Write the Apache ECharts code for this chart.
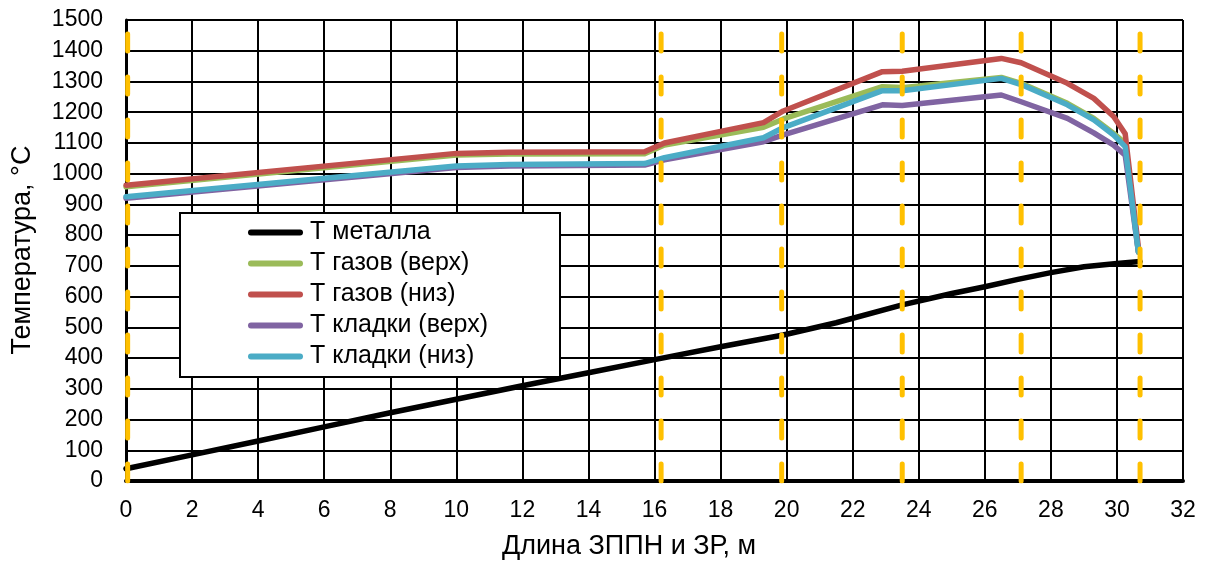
<!DOCTYPE html>
<html>
<head>
<meta charset="utf-8">
<script src="https://cdn.jsdelivr.net/npm/echarts@6/dist/echarts.min.js"></script>
<style>
html,body{margin:0;padding:0;background:#fff;}
#c{width:1208px;height:563px;}
</style>
</head>
<body>
<div id="c"></div>
<script>
// ---- data ----
const seriesNames = ['Т металла', 'Т газов (верх)', 'Т газов (низ)', 'Т кладки (верх)', 'Т кладки (низ)'];
const xMetal = [0, 2, 4, 6, 8, 10, 12, 14, 16, 18, 19.9, 21.5, 23.5, 25, 26, 27, 28, 29, 30, 30.7];
const tMetal = [40, 85, 130, 176, 222, 266, 310, 352, 395, 437, 475, 515, 573, 610, 632, 656, 678, 697, 708, 714];
const xGas = [0, 10, 11.6, 15.7, 16.3, 19.3, 19.9, 22.9, 23.5, 26.5, 27.1, 28.5, 29.3, 29.9, 30.25, 30.65];
const tGasTop = [957, 1061, 1064, 1065, 1093, 1151, 1178, 1283, 1280, 1313, 1294, 1229, 1180, 1131, 1099, 745];
const tGasBottom = [962, 1066, 1070, 1071, 1100, 1166, 1204, 1332, 1333, 1375, 1361, 1294, 1245, 1186, 1130, 760];
const tWallTop = [920, 1020, 1025, 1028, 1045, 1104, 1126, 1224, 1222, 1256, 1234, 1180, 1133, 1093, 1060, 745];
const tWallBottom = [925, 1025, 1030, 1033, 1052, 1117, 1150, 1270, 1270, 1310, 1290, 1224, 1175, 1126, 1088, 745];
const zoneBounds = [0.05, 16.2, 19.85, 23.5, 27.1, 30.7];
const yRange = [0, 1500];
const xRange = [0, 32];
const xTitle = 'Длина ЗППН и ЗР, м';
const yTitle = 'Температура, °C';

const colors = ['#000000', '#9BBB59', '#C0504D', '#8064A2', '#4BACC6'];
const ys = [tMetal, tGasTop, tGasBottom, tWallTop, tWallBottom];
const xs = [xMetal, xGas, xGas, xGas, xGas];

const FONT = '"Liberation Sans", Arial, sans-serif';
const capsule = 'path://M3,0 L53,0 A3,3 0 0 1 53,6 L3,6 A3,3 0 0 1 3,0 Z';
const series = seriesNames.map((n, i) => ({
  name: n,
  type: 'line',
  data: xs[i].map((x, k) => [x, ys[i][k]]),
  showSymbol: false,
  symbol: 'none',
  lineStyle: { color: colors[i], width: 5.5, cap: 'round', join: 'round' },
  itemStyle: { color: colors[i] },
  z: 2 + i * 0.1,
  animation: false
}));
zoneBounds.forEach(b => {
  series.push({
    type: 'line',
    data: [[b, yRange[0]], [b, yRange[1]]],
    showSymbol: false,
    symbol: 'none',
    silent: true,
    lineStyle: { color: '#FFC000', width: 5, type: [17, 26], cap: 'round' },
    z: 3,
    animation: false
  });
});

const chart = echarts.init(document.getElementById('c'));
chart.setOption({
  animation: false,
  backgroundColor: '#fff',
  grid: { left: 126, right: 25, top: 20, bottom: 82, containLabel: false },
  xAxis: {
    type: 'value', min: xRange[0], max: xRange[1], interval: 2,
    axisLine: { show: true, onZero: false, lineStyle: { color: '#000', width: 4 } },
    axisTick: { show: false },
    axisLabel: { color: '#000', fontSize: 23, fontFamily: FONT, margin: 18 },
    splitLine: { show: true, lineStyle: { color: '#000', width: 2 } }
  },
  yAxis: {
    type: 'value', min: yRange[0], max: yRange[1], interval: 100,
    axisLine: { show: true, lineStyle: { color: '#000', width: 3 } },
    axisTick: { show: false },
    axisLabel: { color: '#000', fontSize: 23, fontFamily: FONT, margin: 23, formatter: v => String(v) },
    splitLine: { show: true, lineStyle: { color: '#000', width: 2 } }
  },
  legend: {
    data: seriesNames.map(n => ({ name: n, icon: capsule })),
    orient: 'vertical',
    left: 248, top: 220,
    itemWidth: 55, itemHeight: 6, itemGap: 6,
    padding: 0,
    textStyle: { color: '#000', fontSize: 25, fontFamily: FONT, lineHeight: 25, padding: [0, 0, 0, 2] },
    z: 10
  },
  graphic: [
    { type: 'rect', shape: { x: 180, y: 213, width: 380, height: 164 },
      style: { fill: '#fff', stroke: '#000', lineWidth: 2 }, z: 5 },
    { type: 'text', x: 629, y: 547, style: { text: xTitle, fill: '#000', font: '27px ' + FONT, textAlign: 'center', textVerticalAlign: 'middle' }, z: 5 },
    { type: 'text', x: 23, y: 250, rotation: Math.PI / 2, style: { text: yTitle, fill: '#000', font: '27px ' + FONT, textAlign: 'center', textVerticalAlign: 'middle' }, z: 5 }
  ],
  series: series
});
</script>
</body>
</html>
